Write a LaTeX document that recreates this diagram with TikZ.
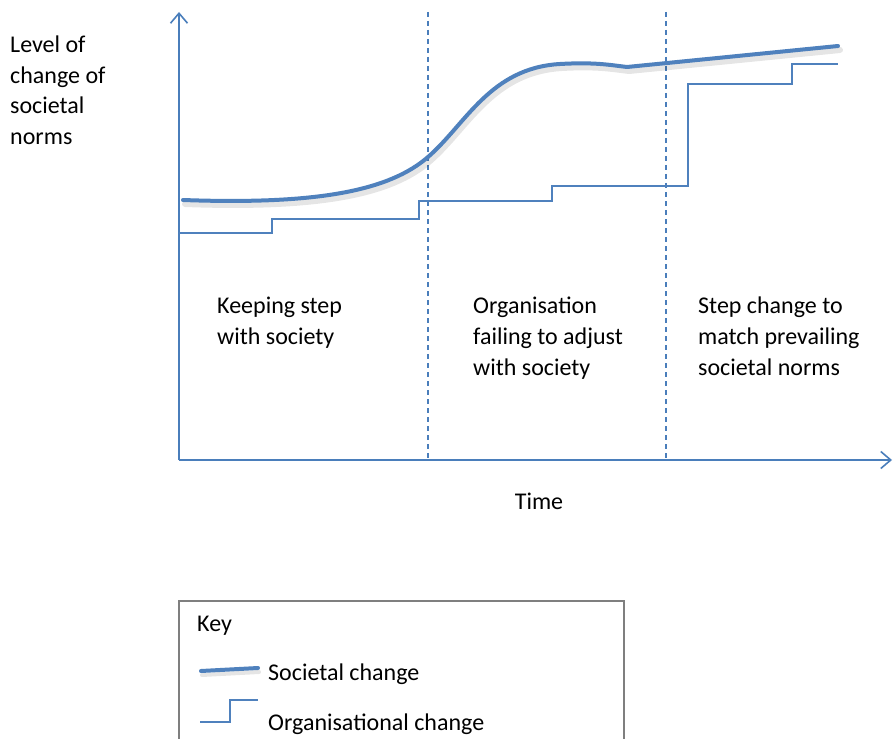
\documentclass[tikz,border=0pt]{standalone}
\usepackage{fontspec}
\setmainfont{Carlito}
\usetikzlibrary{arrows.meta}
\definecolor{axisblue}{HTML}{4A7EBB}
\definecolor{curveblue}{HTML}{4F81BD}
\definecolor{keygray}{HTML}{7F7F7F}
\tikzset{
  axisline/.style={draw=axisblue, line width=1.6pt, -{Straight Barb[length=10pt,width=17pt,line width=1.6pt]}},
  divider/.style={draw=axisblue, line width=1.3pt, dash pattern=on 5pt off 4pt},
  societal/.style={draw=curveblue, line width=4pt, line cap=round, line join=round},
  societalshadow/.style={draw=black, opacity=0.10, line width=6pt, line cap=round, line join=round},
  organisational/.style={draw=curveblue, line width=1.6pt},
  keybox/.style={draw=keygray, line width=1.3pt},
  lbl/.style={anchor=base west, inner sep=0pt, font=\fontsize{24}{30}\selectfont, text=black},
}
\begin{document}
\begin{tikzpicture}[x=1pt,y=-1pt]
\useasboundingbox (0,0) rectangle (893,738);
\fill[white] (0,0) rectangle (893,738);
% axes
\coordinate (origin) at (179,460);
\coordinate (ytop) at (179,12);
\coordinate (xend) at (892,460);
\draw[axisline] (origin) -- (ytop);
\draw[axisline] (origin) -- (xend);
% dividers
\coordinate (d1t) at (428,12); \coordinate (d1b) at (428,460);
\coordinate (d2t) at (666,12); \coordinate (d2b) at (666,460);
\draw[divider] (d1t) -- (d1b);
\draw[divider] (d2t) -- (d2b);
% organisational change (step line)
\draw[organisational] (179,233) -- (272,233) -- (272,219) -- (419,219) -- (419,201) -- (552,201) -- (552,186) -- (688,186) -- (688,84) -- (792,84) -- (792,64) -- (838,64);
% societal change (shadow + curve)
\begin{scope}[shift={(2,4)}]
\draw[societalshadow] (183,200) .. controls (320,205) and (390,190) .. (428,157) .. controls (466,124) and (490,68) .. (560,64) .. controls (595,62) and (610,65) .. (627,67) -- (838,46);
\end{scope}
\draw[societal] (183,200) .. controls (320,205) and (390,190) .. (428,157) .. controls (466,124) and (490,68) .. (560,64) .. controls (595,62) and (610,65) .. (627,67) -- (838,46);
% y-axis label
\node[lbl] (yl1) at (10,53) {Level of};
\node[lbl] (yl2) at (10,84) {change of};
\node[lbl] (yl3) at (10,114) {societal};
\node[lbl] (yl4) at (10,145) {norms};
% phase labels
\node[lbl] (a1) at (217,313) {Keeping step};
\node[lbl] (a2) at (217,344) {with society};
\node[lbl] (b1) at (473,313) {Organisation};
\node[lbl] (b2) at (473,344) {failing to adjust};
\node[lbl] (b3) at (473,375) {with society};
\node[lbl] (c1) at (698,313) {Step change to};
\node[lbl] (c2) at (698,344) {match prevailing};
\node[lbl] (c3) at (698,375) {societal norms};
% x-axis label
\node[lbl, anchor=base] (time) at (539,509) {Time};
% key
\draw[keybox] (179,740) -- (179,601) -- (624,601) -- (624,740);
\node[lbl] (key) at (197,631) {Key};
\begin{scope}[shift={(1,4)}]
\draw[societalshadow, line width=4pt] (201,671) -- (258,668);
\end{scope}
\draw[societal] (201,671) -- (258,668);
\node[lbl] (ks) at (268,680) {Societal change};
\draw[organisational] (200,722) -- (230,722) -- (230,700) -- (258,700);
\node[lbl] (ko) at (268,730) {Organisational change};
\end{tikzpicture}
\end{document}
